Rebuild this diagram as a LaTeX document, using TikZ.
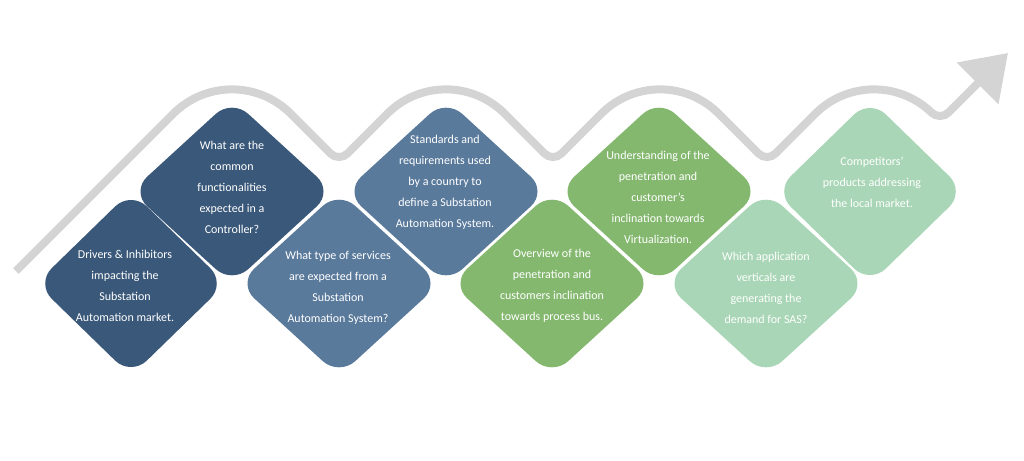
\documentclass[tikz,border=0pt]{standalone}
\usepackage{fontspec}
\setmainfont{Carlito}
\usetikzlibrary{shapes.geometric, arrows.meta, positioning}

\definecolor{navy}{HTML}{3A5879}
\definecolor{steel}{HTML}{5A7A9C}
\definecolor{leaf}{HTML}{84B86F}
\definecolor{mint}{HTML}{A9D6B6}
\definecolor{trendgray}{HTML}{D4D4D4}

\begin{document}
\begin{tikzpicture}[x=1pt,y=-1pt,
  tile/.style={diamond, rounded corners=22pt, inner sep=0pt, outer sep=0pt, minimum height=185pt},
  tiletext/.style={text=white, align=center, inner sep=0pt, font=\fontsize{12}{21}\selectfont},
  trend/.style={draw=trendgray, line width=8pt, -{Triangle[length=43pt,width=57pt]}}]
\useasboundingbox (0,0) rectangle (1024,460);

% trend line behind the tiles
\coordinate (s0) at (16,271);
\coordinate (tip) at (1008,53);
\draw[trend] (s0) [rounded corners=83pt] -- (232,55) [rounded corners=12pt] -- (339,162)
  [rounded corners=83pt] -- (446,55) [rounded corners=12pt] -- (553,162)
  [rounded corners=83pt] -- (660,55) [rounded corners=12pt] -- (767,162)
  [rounded corners=83pt] -- (874,55) [rounded corners=12pt] -- (940,121) -- (tip);

\foreach \x/\y/\w/\tx/\ty/\col/\txt [count=\i] in {
  131/283.5/190/125/286/navy/{Drivers \& Inhibitors\\impacting the\\Substation\\Automation market.},
  232/191.5/202/232/187.5/navy/{What are the\\common\\functionalities\\expected in a\\Controller?},
  339/283.5/202/338/287.5/steel/{What type of services\\are expected from a\\Substation\\Automation System?},
  446/191.5/202/445/182/steel/{Standards and\\requirements used\\by a country to\\define a Substation\\Automation System.},
  552/283.5/202/552/286/leaf/{Overview of the\\penetration and\\customers inclination\\towards process bus.},
  659/191.5/202/658/197/leaf/{Understanding of the\\penetration and\\customer’s\\inclination towards\\Virtualization.},
  766/283.5/202/766/288/mint/{Which application\\verticals are\\generating the\\demand for SAS?},
  870/191.5/190/872/182/mint/{Competitors’\\products addressing\\the local market.}}{
  \node[tile, fill=\col, minimum width=\w pt] (d\i) at (\x,\y) {};
  \node[tiletext] (t\i) at (\tx,\ty) {\txt};
}
\end{tikzpicture}
\end{document}
